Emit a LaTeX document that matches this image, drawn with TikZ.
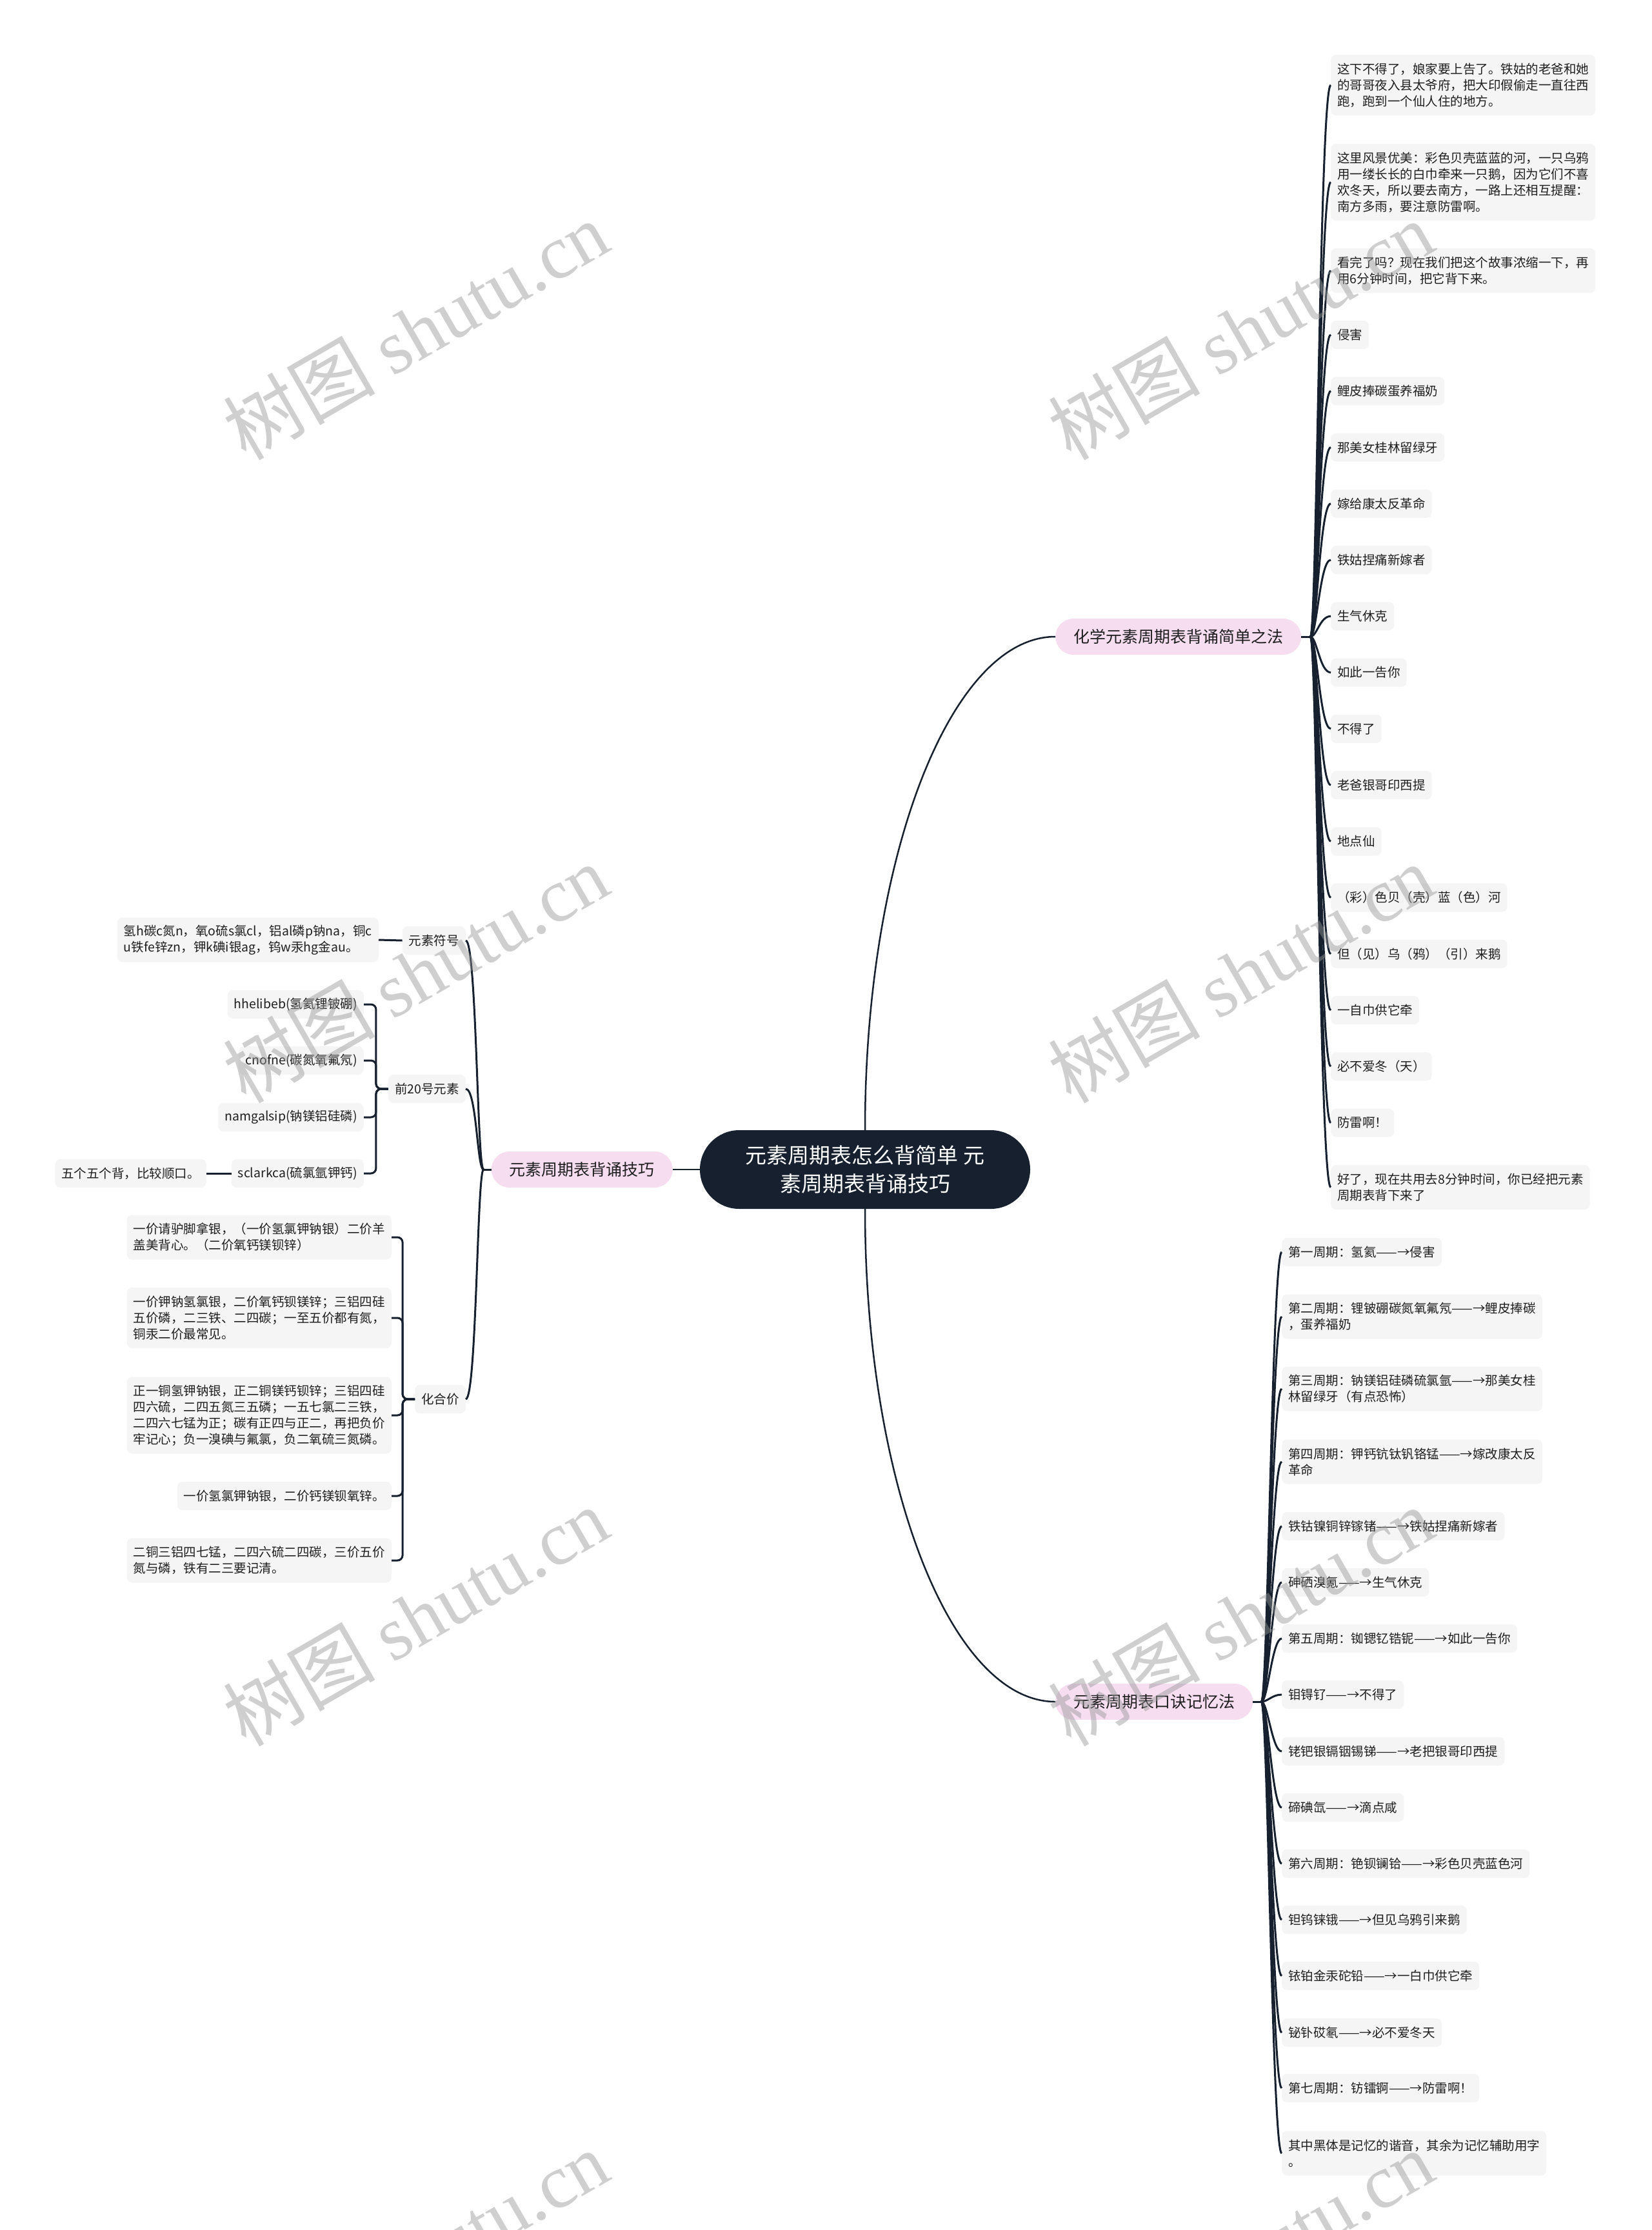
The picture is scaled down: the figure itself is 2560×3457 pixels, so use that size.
\documentclass[tikz,border=0pt]{standalone}
\usepackage{fontspec}
\setmainfont{Noto Sans CJK SC}
\newfontfamily\wmlatin{Liberation Serif}
\usetikzlibrary{calc}
\definecolor{navy}{RGB}{22,32,46}
\definecolor{leafbg}{RGB}{245,245,245}
\definecolor{pinkbg}{RGB}{246,222,240}
\definecolor{txt}{RGB}{30,30,30}
\definecolor{wmgray}{RGB}{150,150,150}
\begin{document}
\begin{tikzpicture}[x=1pt,y=-1pt,
  leaf/.style={fill=leafbg, rounded corners=8pt, inner xsep=10pt, inner ysep=0pt, minimum height=44pt, align=left, text=txt, font=\fontsize{19.5}{25}\selectfont},
  two/.style={minimum height=69pt},
  three/.style={minimum height=94pt},
  four/.style={minimum height=119pt},
  pill/.style={fill=pinkbg, rounded corners=28pt, minimum height=56pt, inner xsep=28pt, inner ysep=0pt, text=txt, font=\fontsize{25}{30}\selectfont},
  root/.style={fill=navy, rounded corners=61pt, minimum width=512pt, minimum height=122pt, inner sep=0pt, text=white, align=center, font=\fontsize{33}{44}\selectfont},
  conn/.style={draw=navy, line width=3pt},
  thinconn/.style={draw=navy, line width=2.5pt},
  wm/.style={text=wmgray, text opacity=0.45, rotate=30, inner sep=0pt, font=\fontsize{118}{128}\selectfont}
]
\useasboundingbox (0,0) rectangle (2560,3457);
\fill[white] (0,0) rectangle (2560,3457);

% root and main branches
\node[root] (c) at (1341,1813) {元素周期表怎么背简单 元\\素周期表背诵技巧};
\node[pill, anchor=west] (b1) at (1636,987) {化学元素周期表背诵简单之法};
\node[pill, anchor=west] (b2) at (1636,2638) {元素周期表口诀记忆法};
\node[pill, anchor=east] (lp) at (1043,1813) {元素周期表背诵技巧};

% branch 1 leaves
\node[leaf, three, anchor=west] (r1) at (2063,132) {这下不得了，娘家要上告了。铁姑的老爸和她\\的哥哥夜入县太爷府，把大印假偷走一直往西\\跑，跑到一个仙人住的地方。};
\node[leaf, four, anchor=west] (r2) at (2063,282.5) {这里风景优美：彩色贝壳蓝蓝的河，一只乌鸦\\用一缕长长的白巾牵来一只鹅，因为它们不喜\\欢冬天，所以要去南方，一路上还相互提醒：\\南方多雨，要注意防雷啊。};
\node[leaf, two, anchor=west] (r3) at (2063,419.5) {看完了吗？现在我们把这个故事浓缩一下，再\\用6分钟时间，把它背下来。};
\node[leaf, anchor=west] (r4) at (2063,519) {侵害};
\node[leaf, anchor=west] (r5) at (2063,606.25) {鲤皮捧碳蛋养福奶};
\node[leaf, anchor=west] (r6) at (2063,693.5) {那美女桂林留绿牙};
\node[leaf, anchor=west] (r7) at (2063,780.75) {嫁给康太反革命};
\node[leaf, anchor=west] (r8) at (2063,868) {铁姑捏痛新嫁者};
\node[leaf, anchor=west] (r9) at (2063,955.25) {生气休克};
\node[leaf, anchor=west] (r10) at (2063,1042.5) {如此一告你};
\node[leaf, anchor=west] (r11) at (2063,1129.75) {不得了};
\node[leaf, anchor=west] (r12) at (2063,1217) {老爸银哥印西提};
\node[leaf, anchor=west] (r13) at (2063,1304.25) {地点仙};
\node[leaf, anchor=west] (r14) at (2063,1391.5) {（彩）色贝（壳）蓝（色）河};
\node[leaf, anchor=west] (r15) at (2063,1478.75) {但（见）乌（鸦）（引）来鹅};
\node[leaf, anchor=west] (r16) at (2063,1566) {一自巾供它牵};
\node[leaf, anchor=west] (r17) at (2063,1653.25) {必不爱冬（天）};
\node[leaf, anchor=west] (r18) at (2063,1740.5) {防雷啊！};
\node[leaf, two, anchor=west] (r19) at (2063,1840.5) {好了，现在共用去8分钟时间，你已经把元素\\周期表背下来了};

% branch 2 leaves
\node[leaf, anchor=west] (s1) at (1987,1941) {第一周期：氢氦——→侵害};
\node[leaf, two, anchor=west] (s2) at (1987,2041) {第二周期：锂铍硼碳氮氧氟氖——→鲤皮捧碳\\，蛋养福奶};
\node[leaf, two, anchor=west] (s3) at (1987,2153) {第三周期：钠镁铝硅磷硫氯氩——→那美女桂\\林留绿牙（有点恐怖）};
\node[leaf, two, anchor=west] (s4) at (1987,2266) {第四周期：钾钙钪钛钒铬锰——→嫁改康太反\\革命};
\node[leaf, anchor=west] (s5) at (1987,2366) {铁钴镍铜锌镓锗——→铁姑捏痛新嫁者};
\node[leaf, anchor=west] (s6) at (1987,2453) {砷硒溴氪——→生气休克};
\node[leaf, anchor=west] (s7) at (1987,2540) {第五周期：铷锶钇锆铌——→如此一告你};
\node[leaf, anchor=west] (s8) at (1987,2627) {钼锝钌——→不得了};
\node[leaf, anchor=west] (s9) at (1987,2715) {铑钯银镉铟锡锑——→老把银哥印西提};
\node[leaf, anchor=west] (s10) at (1987,2802) {碲碘氙——→滴点咸};
\node[leaf, anchor=west] (s11) at (1987,2889) {第六周期：铯钡镧铪——→彩色贝壳蓝色河};
\node[leaf, anchor=west] (s12) at (1987,2976) {钽钨铼锇——→但见乌鸦引来鹅};
\node[leaf, anchor=west] (s13) at (1987,3063) {铱铂金汞砣铅——→一白巾供它牵};
\node[leaf, anchor=west] (s14) at (1987,3151) {铋钋砹氡——→必不爱冬天};
\node[leaf, anchor=west] (s15) at (1987,3237) {第七周期：钫镭锕——→防雷啊！};
\node[leaf, two, anchor=west] (s16) at (1987,3338) {其中黑体是记忆的谐音，其余为记忆辅助用字\\。};

% left branch
\node[leaf, anchor=east] (ys) at (722,1458) {元素符号};
\node[leaf, two, anchor=east] (ysc) at (587,1457) {氢h碳c氮n，氧o硫s氯cl，铝al磷p钠na，铜c\\u铁fe锌zn，钾k碘i银ag，钨w汞hg金au。};
\node[leaf, anchor=east] (q20) at (722,1688) {前20号元素};
\node[leaf, anchor=east] (e1) at (564,1557) {hhelibeb(氢氦锂铍硼)};
\node[leaf, anchor=east] (e2) at (564,1644) {cnofne(碳氮氧氟氖)};
\node[leaf, anchor=east] (e3) at (564,1732) {namgalsip(钠镁铝硅磷)};
\node[leaf, anchor=east] (e4) at (564,1819) {sclarkca(硫氯氩钾钙)};
\node[leaf, anchor=east] (e5) at (320,1819) {五个五个背，比较顺口。};
\node[leaf, anchor=east] (hj) at (722,2169) {化合价};
\node[leaf, two, anchor=east] (k1) at (607,1918) {一价请驴脚拿银，（一价氢氯钾钠银）二价羊\\盖美背心。（二价氧钙镁钡锌）};
\node[leaf, three, anchor=east] (k2) at (607,2043) {一价钾钠氢氯银，二价氧钙钡镁锌；三铝四硅\\五价磷，二三铁、二四碳；一至五价都有氮，\\铜汞二价最常见。};
\node[leaf, four, anchor=east] (k3) at (607,2194) {正一铜氢钾钠银，正二铜镁钙钡锌；三铝四硅\\四六硫，二四五氮三五磷；一五七氯二三铁，\\二四六七锰为正；碳有正四与正二，再把负价\\牢记心；负一溴碘与氟氯，负二氧硫三氮磷。};
\node[leaf, anchor=east] (k4) at (607,2319) {一价氢氯钾钠银，二价钙镁钡氧锌。};
\node[leaf, two, anchor=east] (k5) at (607,2419) {二铜三铝四七锰，二四六硫二四碳，三价五价\\氮与磷，铁有二三要记清。};

% connectors: root to branches
\draw[thinconn] (c.west) -- (lp.east);
\draw[thinconn] (c.north) .. controls +(0,-422) and +(-163,0) .. (b1.west);
\draw[thinconn] (c.south) .. controls +(0,422) and +(-163,0) .. (b2.west);

% branch 1 hub
\coordinate (hub1) at ($(b1.east)+(14,0)$);
\draw[conn] (b1.east) -- (hub1);
\foreach \i in {1,...,19} \draw[conn] (hub1) .. controls +(10,0) and +(-17,0) .. (r\i.west);

% branch 2 hub
\coordinate (hub2) at ($(b2.east)+(13,0)$);
\draw[conn] (b2.east) -- (hub2);
\foreach \i in {1,...,16} \draw[conn] (hub2) .. controls +(10,0) and +(-15,0) .. (s\i.west);

% left hub
\coordinate (hubl) at ($(lp.west)+(-12,0)$);
\draw[conn] (lp.west) -- (hubl);
\foreach \n in {ys,q20,hj} \draw[conn] (hubl) .. controls +(-10,0) and +(17,0) .. (\n.east);

\draw[conn] (ys.west) -- (ysc.east);
\foreach \n in {e1,e2,e3,e4} \draw[conn, rounded corners=8pt] (q20.west) -- ++(-19,0) |- (\n.east);
\draw[conn] (e4.west) -- (e5.east);
\foreach \i in {1,...,5} \draw[conn, rounded corners=8pt] (hj.west) -- ++(-19,0) |- (k\i.east);

% watermarks
\begin{scope}
\clip (0,0) rectangle (2560,3457);
\foreach \y [count=\j] in {512,1509,2506,3503} {
  \node[wm] (wmL\j) at (644,\y) {树图 {\wmlatin shutu.cn}};
  \node[wm] (wmR\j) at (1923,\y) {树图 {\wmlatin shutu.cn}};
}
\end{scope}
\end{tikzpicture}
\end{document}
